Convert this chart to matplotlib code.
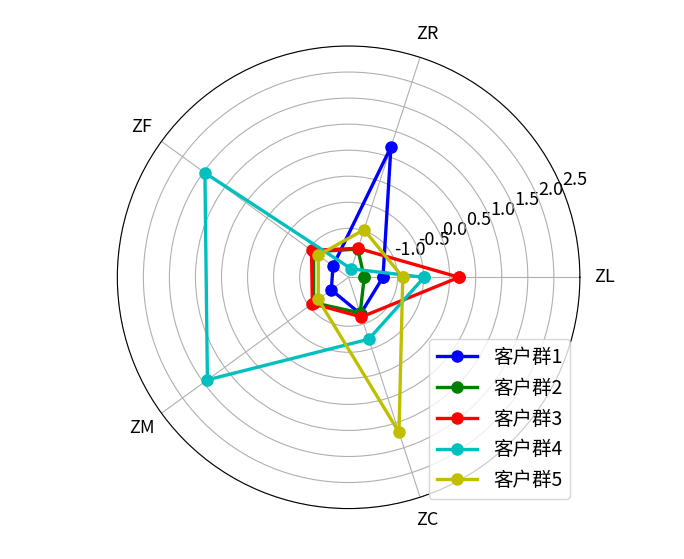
import matplotlib
matplotlib.use('Agg')
import matplotlib.pyplot as plt
import numpy as np

plt.rcParams['font.family'] = ['Noto Sans CJK SC', 'DejaVu Sans']

labels = ['ZL', 'ZR', 'ZF', 'ZM', 'ZC']
# cluster centres as drawn (radial values)
group1 = [-0.27, 1.70, -0.56, -0.52, -0.19]
group2 = [-0.63, -0.36, -0.10, -0.10, -0.21]
group3 = [1.19, -0.345, -0.05, -0.07, -0.13]
group4 = [0.52, -0.76, 2.48, 2.42, 0.32]
group5 = [0.11, 0.03, -0.21, -0.21, 2.20]
groups = [group1, group2, group3, group4, group5]
names = ['客户群1', '客户群2', '客户群3', '客户群4', '客户群5']
colors = ['b', 'g', 'r', 'c', 'y']

rgrid_pos = np.arange(0.01, 3.6, 0.5)
rgrid_labels = np.arange(-1, 3, 0.5)

k = len(labels)
angles = np.linspace(0, 2 * np.pi, k, endpoint=False)
angles_closed = np.concatenate((angles, [angles[0]]))

fig = plt.figure(figsize=(6.84, 5.59), dpi=100)
ax = fig.add_axes([0.1715, 0.0902, 0.6763, 0.8275], polar=True)

for i in range(len(groups)):
    vals = np.concatenate((groups[i], [groups[i][0]]))
    ax.plot(angles_closed, vals, 'o-', color=colors[i], label=names[i],
            linewidth=2.4, markersize=8)

ax.set_ylim(-0.93, 3.51)
ax.set_rgrids(rgrid_pos, ['%.1f' % v for v in rgrid_labels], fontsize=13)
ax.set_thetagrids(angles * 180 / np.pi, labels, fontsize=13)
ax.tick_params(axis='x', pad=7)

plt.legend(loc=4, fontsize=14, labelspacing=0.5, handlelength=2.1)
fig.savefig('out.png', dpi=100)
